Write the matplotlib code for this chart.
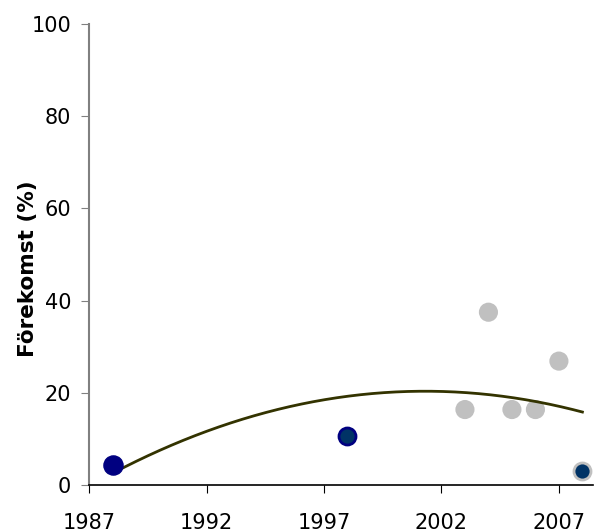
import numpy as np
import matplotlib.pyplot as plt

# dark points (own surveys) and grey points (other data)
years_dark = np.array([1988, 1998])
occ_dark = np.array([4.3, 10.7])
years_grey = np.array([2003, 2004, 2005, 2006, 2007])
occ_grey = np.array([16.4, 37.5, 16.4, 16.4, 26.9])
years_last = np.array([2008])
occ_last = np.array([3.1])

xticks = [1987, 1992, 1997, 2002, 2007]
yticks = [0, 20, 40, 60, 80, 100]

fig = plt.figure(figsize=(6.02, 5.32), dpi=100)
ax = fig.add_axes([0.148, 0.088, 0.837, 0.867])

# polynomial trend (order 2) through all points
all_x = np.concatenate([years_dark, years_grey, years_last])
all_y = np.concatenate([occ_dark, occ_grey, occ_last])
coef = np.polyfit(all_x - 1988, all_y, 2)
tx = np.linspace(1988, 2008, 200)
ax.plot(tx, np.polyval(coef, tx - 1988), color="#333300", lw=2, zorder=3)

ax.scatter(years_grey, occ_grey, s=190, color="#c0c0c0", edgecolors="none", zorder=2)
ax.scatter(years_dark[:1], occ_dark[:1], s=190, color="#000080", edgecolors="#000080", zorder=4)
ax.scatter(years_dark[1:], occ_dark[1:], s=150, color="#003366", edgecolors="#000080", linewidths=2, zorder=4)
ax.scatter(years_last, occ_last, s=150, color="#003366", edgecolors="#c0c0c0", linewidths=2, zorder=4)

ax.set_xlim(1987, 2008.45)
ax.set_ylim(0, 100)
ax.set_xticks(xticks)
ax.set_yticks(yticks)
ax.tick_params(labelsize=15, direction="out")
ax.tick_params(axis="x", length=6, pad=14)
ax.tick_params(axis="y", length=6, pad=7, colors="#808080", labelcolor="black")
ax.spines["top"].set_visible(False)
ax.spines["right"].set_visible(False)
ax.spines["left"].set_color("#808080")
ax.spines["left"].set_linewidth(1.5)
ax.spines["bottom"].set_linewidth(1.2)
ax.set_ylabel("Förekomst (%)", fontsize=15.5, fontweight="bold")
ax.yaxis.set_label_coords(-0.101, 0.47)

plt.savefig("out.png")
